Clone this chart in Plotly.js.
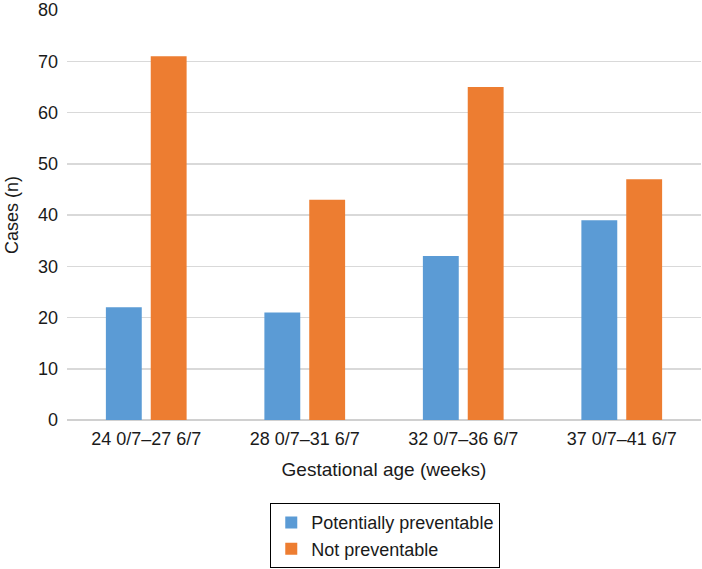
<!DOCTYPE html>
<html>
<head>
<script src="https://cdn.plot.ly/plotly-3.0.1.min.js"></script>
<style>body{margin:0;padding:0;background:#fff;} #chart{width:702px;height:569px;}</style>
</head>
<body>
<div id="chart"></div>
<script>
var categories = ["24 0/7\u201327 6/7", "28 0/7\u201331 6/7", "32 0/7\u201336 6/7", "37 0/7\u201341 6/7"];
var preventable = [22, 21, 32, 39];
var notPreventable = [71, 43, 65, 47];

var traces = [
  {type: 'bar', name: 'Potentially preventable', x: categories, y: preventable, marker: {color: '#5b9bd5'}},
  {type: 'bar', name: 'Not preventable', x: categories, y: notPreventable, marker: {color: '#ed7d31'}}
];

var layout = {
  width: 702, height: 569,
  margin: {l: 67, r: 1, t: 10, b: 149},
  paper_bgcolor: '#ffffff', plot_bgcolor: '#ffffff',
  font: {family: 'Liberation Sans, Arial, sans-serif', size: 18, color: '#1a1a1a'},
  barmode: 'group', bargap: 0.434, bargroupgap: 0.2,
  showlegend: true,
  legend: {
    orientation: 'v', x: 0.502, xanchor: 'center', y: -0.203, yanchor: 'top',
    bordercolor: '#000', borderwidth: 1, bgcolor: '#fff',
    font: {size: 18, color: '#1a1a1a'}, tracegroupgap: 0
  },
  xaxis: {
    type: 'category', showgrid: false, showline: false, ticks: '',
    tickfont: {size: 18, color: '#1a1a1a'}, ticklabelstandoff: 6,
    title: {text: 'Gestational age (weeks)', font: {size: 19, color: '#1a1a1a'}, standoff: 14}
  },
  yaxis: {
    range: [0, 80], dtick: 10, showgrid: true, gridcolor: '#d9d9d9', gridwidth: 1.5,
    zeroline: true, zerolinecolor: '#d0d0d0', zerolinewidth: 1.5,
    showline: false, ticks: '', ticklabelstandoff: 8,
    tickfont: {size: 18, color: '#1a1a1a'},
    title: {text: 'Cases (n)', font: {size: 18, color: '#1a1a1a'}, standoff: 14}
  }
};

Plotly.newPlot('chart', traces, layout, {displayModeBar: false, staticPlot: true});
</script>
</body>
</html>
